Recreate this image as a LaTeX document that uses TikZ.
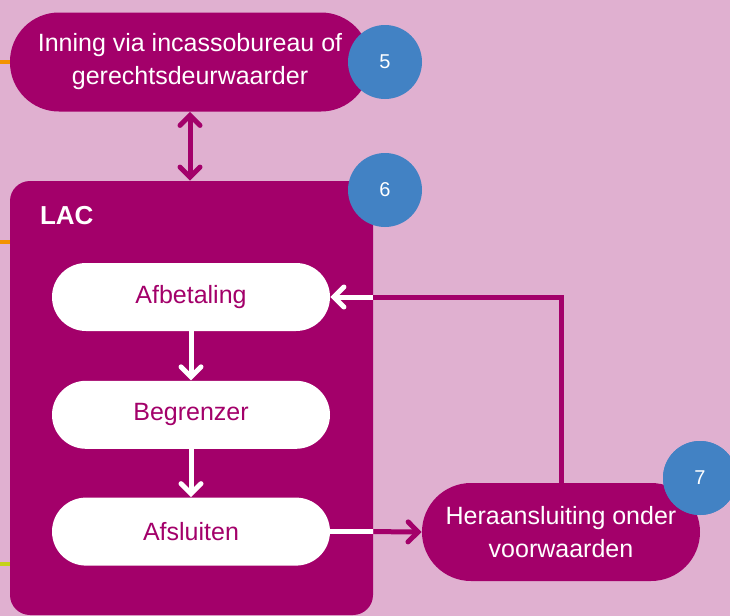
\documentclass[tikz,border=0pt]{standalone}
\usepackage{fontspec}
\setmainfont{Liberation Sans}
\usetikzlibrary{arrows.meta,positioning}

\definecolor{paars}{HTML}{A3006A}
\definecolor{roze}{HTML}{E0B0D0}
\definecolor{blauw}{HTML}{4282C4}
\definecolor{oranje}{HTML}{F39200}
\definecolor{geel}{HTML}{C5D21A}

\tikzset{
	stap/.style={rectangle, rounded corners=24.5pt, fill=paars, text=white, align=center, minimum width=180pt, minimum height=49.5pt, font=\fontsize{12.5}{16.5}\selectfont},
	subpil/.style={rectangle, rounded corners=17pt, fill=white, text=paars, minimum width=139pt, minimum height=34pt, font=\fontsize{12.5}{16.5}\selectfont},
	nummer/.style={circle, fill=blauw, text=white, minimum size=37pt, inner sep=0pt, font=\fontsize{10}{12}\selectfont},
	pijl/.style={line width=2.5pt, -{Straight Barb[length=5pt, width=10pt, line cap=round]}},
	lijn/.style={line width=2.5pt},
	stomp/.style={line width=2pt}
}

\begin{document}
\begin{tikzpicture}[x=0.5pt, y=-0.5pt]
	\fill[roze] (0,0) rectangle (730,616);
	\useasboundingbox (0,0) rectangle (730,616);

	\node[stap] (inning) at (190,62) {Inning via incassobureau of\\gerechtsdeurwaarder};
	\node[nummer] (n5) at (385,62) {5};

	\node[rectangle, rounded corners=10pt, fill=paars, minimum width=181.5pt, minimum height=217pt] (lac) at (191.5,398) {};
	\node[nummer] (n6) at (385,190) {6};
	\node[text=white, font=\fontsize{13}{15}\selectfont\bfseries, anchor=west] (laclbl) at (33,216) {LAC};

	\node[subpil] (afbet) at (191,297) {Afbetaling};
	\node[subpil, below=24.5pt of afbet] (begr) {Begrenzer};
	\node[subpil, below=24pt of begr] (afsl) {Afsluiten};

	\node[stap, minimum width=139pt, minimum height=49pt] (hera) at (561,532) {Heraansluiting onder\\voorwaarden};
	\node[nummer] (n7) at (700,478) {7};

	% stukjes van lijnen links
	\coordinate (o1) at (0,62);
	\coordinate (o2) at (0,242);
	\coordinate (o3) at (0,564);
	\draw[stomp, oranje] (o1) -- (inning.west |- o1);
	\draw[stomp, oranje] (o2) -- (lac.west |- o2);
	\draw[stomp, geel] (o3) -- (lac.west |- o3);

	\draw[lijn, paars, {Straight Barb[length=5pt, width=10pt, line cap=round]}-{Straight Barb[length=5pt, width=10pt, line cap=round]}] (inning.south) -- (inning.south |- lac.north);

	\draw[pijl, white] (afbet) -- (begr);
	\draw[pijl, white] (begr) -- (afsl);

	\coordinate (rand1) at (lac.east |- afsl.east);
	\coordinate (rand2) at (lac.east |- afbet.east);
	\draw[lijn, white] (afsl.east) -- (rand1);
	\draw[pijl, paars] (rand1) -- (hera.west);

	\draw[lijn, paars] (hera.north) |- (rand2);
	\draw[pijl, white] (rand2) -- (afbet.east);

	\node[nummer] at (n7) {7};
\end{tikzpicture}
\end{document}
